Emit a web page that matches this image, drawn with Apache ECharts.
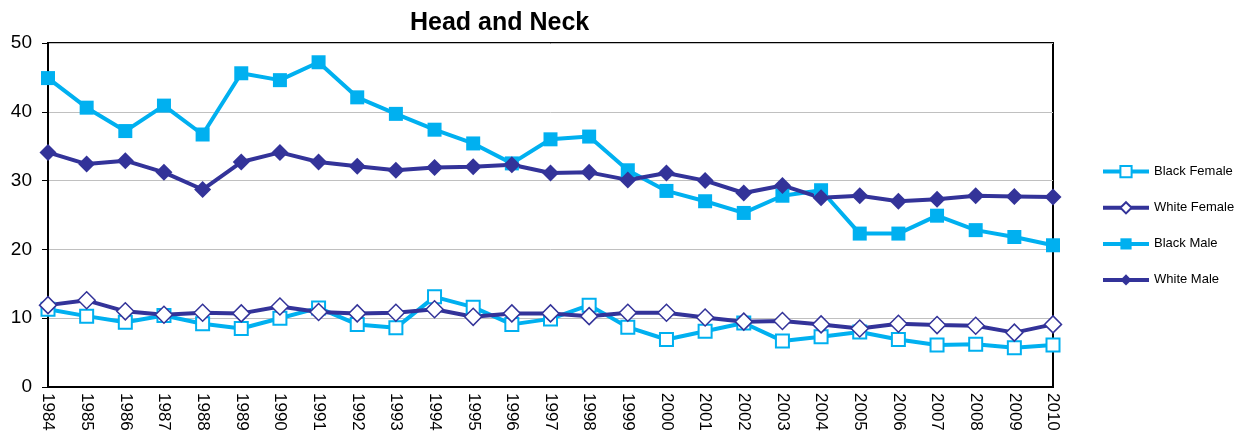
<!DOCTYPE html>
<html>
<head>
<meta charset="utf-8">
<script src="https://cdn.jsdelivr.net/npm/echarts@6/dist/echarts.min.js"></script>
<style>
  html, body { margin: 0; padding: 0; background: #fff; }
  #chart { width: 1237px; height: 435px; }
</style>
</head>
<body>
<div id="chart"></div>
<script>
// data
var years = ['1984','1985','1986','1987','1988','1989','1990','1991','1992','1993','1994','1995','1996',
  '1997','1998','1999','2000','2001','2002','2003','2004','2005','2006','2007','2008','2009','2010']
var blackFemale = [11.3, 10.3, 9.4, 10.4, 9.2, 8.5, 10.0, 11.5, 9.1, 8.6, 13.1, 11.6, 9.1,
  9.9, 11.9, 8.7, 6.9, 8.1, 9.3, 6.7, 7.3, 8.0, 6.9, 6.1, 6.2, 5.7, 6.1]
var whiteFemale = [11.9, 12.6, 11.0, 10.5, 10.8, 10.7, 11.7, 10.9, 10.7, 10.8, 11.3, 10.2, 10.7,
  10.7, 10.3, 10.8, 10.8, 10.1, 9.5, 9.6, 9.1, 8.5, 9.2, 9.0, 8.9, 7.9, 9.1]
var blackMale = [44.9, 40.6, 37.2, 40.9, 36.7, 45.6, 44.6, 47.2, 42.1, 39.7, 37.4, 35.4, 32.5,
  36.0, 36.4, 31.5, 28.5, 27.0, 25.3, 27.8, 28.6, 22.3, 22.3, 24.9, 22.8, 21.8, 20.6]
var whiteMale = [34.1, 32.4, 32.9, 31.2, 28.7, 32.7, 34.1, 32.7, 32.1, 31.5, 31.9, 32.0, 32.3,
  31.1, 31.2, 30.1, 31.1, 30.0, 28.2, 29.3, 27.5, 27.8, 27.0, 27.3, 27.8, 27.7, 27.6]

var lightBlue = '#00b0f0'
var darkBlue = '#333399'

var myChart = echarts.init(document.getElementById('chart'))

var option = {
  backgroundColor: '#ffffff',
  animation: false,
  title: {
    text: 'Head and Neck',
    left: 405,
    top: 6,
    textStyle: { fontFamily: 'Liberation Sans', fontSize: 25, fontWeight: 'bold', color: '#000' }
  },
  legend: {
    orient: 'vertical',
    left: 1096,
    top: 160,
    itemGap: 23,
    itemWidth: 46,
    itemHeight: 14,
    lineStyle: { width: 4 },
    textStyle: { fontFamily: 'Liberation Sans', fontSize: 13, color: '#000' },
    data: ['Black Female', 'White Female', 'Black Male', 'White Male']
  },
  grid: {
    left: 48,
    right: 184,
    top: 43,
    bottom: 48,
    show: true,
    borderColor: '#000',
    borderWidth: 2
  },
  xAxis: {
    type: 'category',
    data: years,
    boundaryGap: false,
    axisLine: { lineStyle: { color: '#000', width: 2 } },
    axisTick: { show: false },
    axisLabel: {
      rotate: -90,
      margin: 6,
      fontFamily: 'Liberation Sans',
      fontSize: 17,
      color: '#000'
    }
  },
  yAxis: {
    type: 'value',
    min: 0,
    max: 50,
    interval: 10,
    axisLine: { show: true, lineStyle: { color: '#000', width: 2 } },
    axisTick: { show: true, length: 6, lineStyle: { color: '#000' } },
    splitLine: { lineStyle: { color: '#c0c0c0', width: 1 } },
    axisLabel: {
      margin: 16,
      fontFamily: 'Liberation Sans',
      fontSize: 19,
      color: '#000'
    }
  },
  series: [
    {
      name: 'Black Female',
      type: 'line',
      data: blackFemale,
      symbol: 'rect',
      symbolSize: 13,
      lineStyle: { color: lightBlue, width: 4 },
      itemStyle: { color: '#fff', borderColor: lightBlue, borderWidth: 2 }
    },
    {
      name: 'White Female',
      type: 'line',
      data: whiteFemale,
      symbol: 'diamond',
      symbolSize: 17,
      lineStyle: { color: darkBlue, width: 4 },
      itemStyle: { color: '#fff', borderColor: darkBlue, borderWidth: 1.5 }
    },
    {
      name: 'Black Male',
      type: 'line',
      data: blackMale,
      symbol: 'rect',
      symbolSize: 14,
      lineStyle: { color: lightBlue, width: 4 },
      itemStyle: { color: lightBlue }
    },
    {
      name: 'White Male',
      type: 'line',
      data: whiteMale,
      symbol: 'diamond',
      symbolSize: 17,
      lineStyle: { color: darkBlue, width: 4 },
      itemStyle: { color: darkBlue }
    }
  ]
}

myChart.setOption(option)
</script>
</body>
</html>
